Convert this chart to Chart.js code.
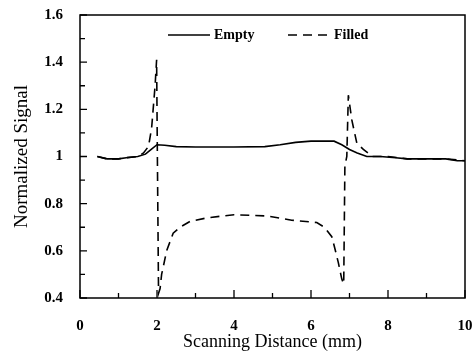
<!DOCTYPE html>
<html>
<head>
<meta charset="utf-8">
<script src="https://cdn.jsdelivr.net/npm/chart.js@4/dist/chart.umd.min.js"></script>
<style>
  html, body { margin: 0; padding: 0; background: #fff; }
  #wrap { width: 476px; height: 353px; }
</style>
</head>
<body>
<div id="wrap"><canvas id="c" width="476" height="353"></canvas></div>
<script>
// ---- data ----
const emptyX = [0.45, 0.7, 1.0, 1.2, 1.5, 1.7, 1.85, 2.0, 2.2, 2.5, 3.0, 4.0, 4.8, 5.2, 5.6, 6.0, 6.6, 6.8, 7.0, 7.2, 7.45, 7.8, 8.2, 8.5, 9.0, 9.5, 9.8, 10.0];
const emptyY = [1.0, 0.99, 0.99, 0.995, 1.0, 1.01, 1.03, 1.05, 1.048, 1.042, 1.04, 1.04, 1.042, 1.05, 1.06, 1.065, 1.065, 1.05, 1.03, 1.015, 1.0, 1.0, 0.995, 0.99, 0.99, 0.99, 0.982, 0.982];

const filledX = [0.45, 0.7, 1.0, 1.2, 1.5, 1.65, 1.78, 1.86, 1.9, 1.95, 1.99, 2.01, 2.04, 2.08, 2.12, 2.16, 2.25, 2.42, 2.6, 2.86, 3.3, 4.0, 4.85, 5.5, 6.15, 6.35, 6.54, 6.62, 6.71, 6.8, 6.85, 6.88, 6.93, 6.97, 7.06, 7.19, 7.36, 7.6, 8.0, 8.5, 9.0, 9.5, 10.0];
const filledY = [1.0, 0.99, 0.99, 0.995, 1.0, 1.015, 1.043, 1.12, 1.2, 1.30, 1.41, 1.0, 0.42, 0.44, 0.5, 0.53, 0.6, 0.675, 0.7, 0.725, 0.74, 0.753, 0.748, 0.73, 0.72, 0.70, 0.66, 0.61, 0.55, 0.48, 0.46, 0.96, 1.0, 1.26, 1.155, 1.057, 1.03, 1.0, 1.0, 0.99, 0.99, 0.99, 0.982];

const seriesLabels = ['Empty', 'Filled'];
const xTicks = [0, 2, 4, 6, 8, 10];
const xTickLabels = ['0', '2', '4', '6', '8', '10'];
const yTicks = [0.4, 0.6, 0.8, 1.0, 1.2, 1.4, 1.6];
const yTickLabels = ['0.4', '0.6', '0.8', '1', '1.2', '1.4', '1.6'];
const xMinorTicks = [1, 3, 5, 7, 9];
const yMinorTicks = [0.5, 0.7, 0.9, 1.1, 1.3, 1.5];

const toPoints = (xs, ys) => xs.map((x, i) => ({ x: x, y: ys[i] }));

const FONT = "'Liberation Serif', 'Times New Roman', serif";

// frame, inward ticks and legend drawn through the chart's scales
const framePlugin = {
  id: 'frame',
  afterDraw(chart) {
    const { ctx, chartArea: a, scales } = chart;
    const xs = scales.x, ys = scales.y;
    ctx.save();
    ctx.strokeStyle = '#000';
    ctx.lineWidth = 1.5;
    ctx.strokeRect(a.left, a.top, a.right - a.left, a.bottom - a.top);
    ctx.lineWidth = 1.3;
    ctx.beginPath();
    xTicks.forEach(v => { const p = xs.getPixelForValue(v); ctx.moveTo(p, a.bottom); ctx.lineTo(p, a.bottom - 8); });
    xMinorTicks.forEach(v => { const p = xs.getPixelForValue(v); ctx.moveTo(p, a.bottom); ctx.lineTo(p, a.bottom - 5); });
    yTicks.forEach(v => { const p = ys.getPixelForValue(v); ctx.moveTo(a.left, p); ctx.lineTo(a.left + 7, p); });
    yMinorTicks.forEach(v => { const p = ys.getPixelForValue(v); ctx.moveTo(a.left, p); ctx.lineTo(a.left + 5, p); });
    ctx.stroke();

    // legend
    const ly = a.top + 20;
    const items = [
      { x0: a.left + 88, dash: [] , ds: chart.data.datasets[0] },
      { x0: a.left + 208, dash: [9, 6], ds: chart.data.datasets[1] }
    ];
    ctx.font = 'bold 14px ' + FONT;
    ctx.textBaseline = 'middle';
    ctx.fillStyle = '#000';
    items.forEach(it => {
      ctx.beginPath();
      ctx.setLineDash(it.dash);
      ctx.lineWidth = 1.5;
      ctx.moveTo(it.x0, ly);
      ctx.lineTo(it.x0 + 42, ly);
      ctx.stroke();
      ctx.setLineDash([]);
      ctx.fillText(it.ds.label, it.x0 + 46, ly);
    });
    ctx.restore();
  }
};

new Chart(document.getElementById('c'), {
  type: 'line',
  data: {
    datasets: [
      {
        label: seriesLabels[0],
        data: toPoints(emptyX, emptyY),
        borderColor: '#000',
        borderWidth: 1.6,
        pointRadius: 0,
        tension: 0,
        fill: false
      },
      {
        label: seriesLabels[1],
        data: toPoints(filledX, filledY),
        borderColor: '#000',
        borderWidth: 1.6,
        borderDash: [9, 6],
        pointRadius: 0,
        tension: 0,
        fill: false
      }
    ]
  },
  options: {
    responsive: false,
    animation: false,
    devicePixelRatio: 1,
    layout: { padding: { left: 0, right: 11, top: 15, bottom: 0 } },
    plugins: { legend: { display: false }, tooltip: { enabled: false } },
    scales: {
      x: {
        type: 'linear',
        min: 0, max: 10,
        afterBuildTicks: s => { s.ticks = xTicks.map(v => ({ value: v })); },
        afterFit: s => { s.height = 55; s.paddingLeft = 0; s.paddingRight = 0; },
        grid: { display: false, drawTicks: false },
        border: { display: false },
        ticks: {
          padding: 19,
          maxRotation: 0,
          color: '#000',
          font: { family: FONT, size: 15, weight: 'bold' },
          callback: (v) => xTickLabels[xTicks.indexOf(v)]
        },
        title: {
          display: true,
          text: 'Scanning Distance (mm)',
          color: '#000',
          font: { family: FONT, size: 18 },
          padding: { top: 0, bottom: 0 }
        }
      },
      y: {
        type: 'linear',
        min: 0.4, max: 1.6,
        afterBuildTicks: s => { s.ticks = yTicks.map(v => ({ value: v })); },
        afterFit: s => { s.width = 80; s.paddingTop = 0; s.paddingBottom = 0; },
        grid: { display: false, drawTicks: false },
        border: { display: false },
        ticks: {
          padding: 17,
          color: '#000',
          font: { family: FONT, size: 15, weight: 'bold' },
          callback: (v) => { const i = yTicks.findIndex(t => Math.abs(t - v) < 1e-9); return yTickLabels[i]; }
        },
        title: {
          display: true,
          text: 'Normalized Signal',
          color: '#000',
          font: { family: FONT, size: 19 },
          padding: { top: 11, bottom: 0 }
        }
      }
    }
  },
  plugins: [framePlugin]
});
</script>
</body>
</html>
